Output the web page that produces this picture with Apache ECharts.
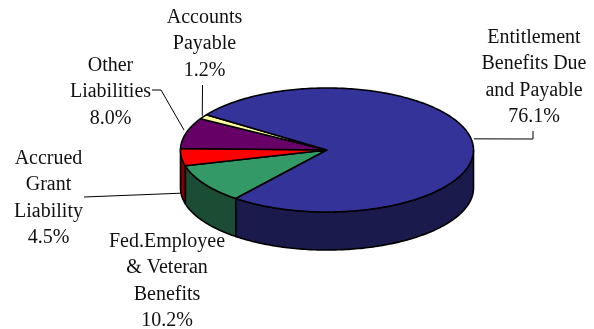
<!DOCTYPE html>
<html>
<head>
<meta charset="utf-8">
<style>html,body{margin:0;padding:0;background:#fff}#chart{width:594px;height:329px}</style>
<script src="https://cdn.jsdelivr.net/npm/echarts@6/dist/echarts.min.js"></script>
</head>
<body>
<div id="chart"></div>
<script>
// Liabilities by share of the total, in clockwise drawing order.
const sliceNames = ['Fed.Employee\n& Veteran\nBenefits', 'Accrued\nGrant\nLiability', 'Other\nLiabilities', 'Accounts\nPayable', 'Entitlement\nBenefits Due\nand Payable'];
const shareValues = [10.2, 4.5, 8.0, 1.2, 76.1];
const topColors = ['#339966', '#ff0000', '#660066', '#ffff99', '#333399'];
const wallColors = ['#1a4d33', '#800000', '#330033', '#80804d', '#1a1a4d'];

// Pie geometry: ellipse centre, radii and extruded depth.
const cx = 327, cy = 150, rx = 146.5, ry = 62, depth = 38;
const startAngle = 218.5;

// Label placement: text centre, first-line y, leader elbow points, leader anchor offset from the rim.
const labelCentres = [[167, 241.5], [48.5, 158.5], [110.5, 65.5], [204.5, 17.5], [534, 37.5]];
const leaderPaths = [null, [[84, 197]], [[152, 90], [161, 90]], [[202.5, 85]], [[533, 131], [533, 139]]];
const leaderOffsets = [[0, 0], [-1, 36], [-2, -3], [-1, -1], [2, -2]];

const total = shareValues.reduce((a, b) => a + b, 0);
const spans = [];
shareValues.reduce((from, v) => {
  const to = from + v / total * 360;
  spans.push([from, to]);
  return to;
}, startAngle);

// Degrees run clockwise from the top of the ellipse.
function rim(deg) {
  const r = deg * Math.PI / 180;
  return [cx + rx * Math.sin(r), cy - ry * Math.cos(r)];
}
function arc(from, to) {
  const pts = [];
  const n = Math.max(2, Math.ceil(Math.abs(to - from)));
  for (let i = 0; i <= n; i++) pts.push(rim(from + (to - from) * i / n));
  return pts;
}
const outline = { stroke: '#000', lineWidth: 1.6, lineJoin: 'round' };

// Front wall of a slice: the parts of its arc that fall in the lower half (90..270 mod 360).
function renderWall(params, api) {
  const i = params.dataIndex;
  const [a, b] = spans[i];
  const children = [];
  [[90, 270], [450, 630]].forEach(([lo, hi]) => {
    const from = Math.max(a, lo), to = Math.min(b, hi);
    if (to <= from) return;
    const edge = arc(from, to);
    const lower = edge.slice().reverse().map(p => [p[0], p[1] + depth]);
    children.push({
      type: 'polygon',
      shape: { points: edge.concat(lower) },
      style: Object.assign({ fill: wallColors[i] }, outline)
    });
  });
  return { type: 'group', children };
}

function renderTop(params, api) {
  const i = params.dataIndex;
  const [a, b] = spans[i];
  return {
    type: 'polygon',
    shape: { points: [[cx, cy]].concat(arc(a, b)) },
    style: Object.assign({ fill: topColors[i] }, outline)
  };
}

function renderLabel(params, api) {
  const i = params.dataIndex;
  const [a, b] = spans[i];
  const children = [{
    type: 'text',
    style: {
      text: sliceNames[i] + '\n' + api.value(0).toFixed(1) + '%',
      x: labelCentres[i][0],
      y: labelCentres[i][1] - 13,
      font: '20px "Liberation Serif"',
      fill: '#111',
      align: 'center',
      verticalAlign: 'top',
      lineHeight: 26.3
    }
  }];
  if (leaderPaths[i]) {
    const anchor = rim((a + b) / 2);
    children.push({
      type: 'polyline',
      shape: { points: leaderPaths[i].concat([[anchor[0] + leaderOffsets[i][0], anchor[1] + leaderOffsets[i][1]]]) },
      style: { stroke: '#000', lineWidth: 1, fill: null }
    });
  }
  return { type: 'group', children };
}

const data = shareValues.map((v, i) => ({ name: sliceNames[i], value: [v] }));
const chart = echarts.init(document.getElementById('chart'), null, { renderer: 'canvas' });
chart.setOption({
  animation: false,
  backgroundColor: '#fff',
  series: [
    { type: 'custom', coordinateSystem: 'none', data, renderItem: renderWall, silent: true, z: 1 },
    { type: 'custom', coordinateSystem: 'none', data, renderItem: renderTop, silent: true, z: 2 },
    { type: 'custom', coordinateSystem: 'none', data, renderItem: renderLabel, silent: true, z: 3 }
  ]
});
</script>
</body>
</html>
